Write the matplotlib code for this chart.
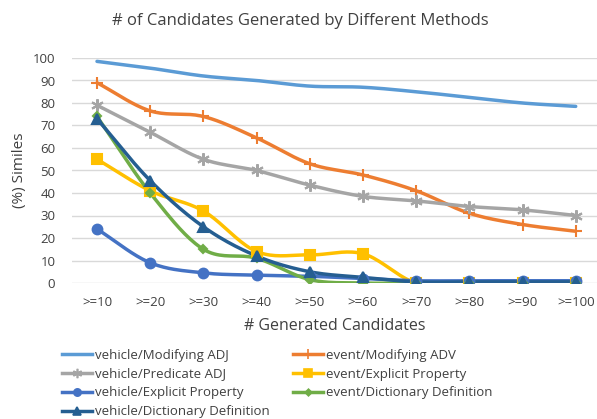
import numpy as np
import matplotlib
matplotlib.use("Agg")
import matplotlib.pyplot as plt

plt.rcParams["font.family"] = ["Open Sans", "DejaVu Sans"]

categories = [">=10", ">=20", ">=30", ">=40", ">=50", ">=60", ">=70", ">=80", ">=90", ">=100"]

vehicle_modifying_adj = [98.5, 95.5, 92, 90, 87.5, 87, 85, 82.5, 80, 78.5]
event_modifying_adv = [89, 76.5, 74, 64.5, 53, 48, 41, 31, 26, 23]
vehicle_predicate_adj = [79, 67, 55, 50, 43.5, 38.5, 36.5, 34, 32.5, 30]
event_explicit_property = [55, 41, 32, 14, 12.5, 13, 0, 0, 0, 0]
vehicle_explicit_property = [24, 9, 4.5, 3.5, 3, 2, 1, 1, 1, 1]
event_dictionary_definition = [74, 40, 15, 11, 1.5, 0, 0, 0, 0, 0]
vehicle_dictionary_definition = [73, 45.5, 25, 12, 5, 2.5, 0.5, 0.5, 0.5, 0.5]


def smooth(xs, ys, n=20):
    # catmull-rom curve through the points, like excel's smoothed line
    xs = np.asarray(xs, float)
    ys = np.asarray(ys, float)
    px = np.concatenate([[2 * xs[0] - xs[1]], xs, [2 * xs[-1] - xs[-2]]])
    py = np.concatenate([[2 * ys[0] - ys[1]], ys, [2 * ys[-1] - ys[-2]]])
    t = np.linspace(0, 1, n, endpoint=False)
    out_x, out_y = [], []
    for i in range(1, len(px) - 2):
        for p, out in ((px, out_x), (py, out_y)):
            p0, p1, p2, p3 = p[i - 1], p[i], p[i + 1], p[i + 2]
            out.extend(0.5 * (2 * p1 + (-p0 + p2) * t
                              + (2 * p0 - 5 * p1 + 4 * p2 - p3) * t ** 2
                              + (-p0 + 3 * p1 - 3 * p2 + p3) * t ** 3))
    out_x.append(xs[-1])
    out_y.append(ys[-1])
    return out_x, out_y


series = [
    ("vehicle/Modifying ADJ", vehicle_modifying_adj, "#5B9BD5", None, 0),
    ("vehicle/Predicate ADJ", vehicle_predicate_adj, "#A5A5A5", (6, 2, 0), 9),
    ("vehicle/Explicit Property", vehicle_explicit_property, "#4472C4", "o", 7),
    ("vehicle/Dictionary Definition", vehicle_dictionary_definition, "#255E91", "^", 7),
    ("event/Modifying ADV", event_modifying_adv, "#ED7D31", "+", 9),
    ("event/Explicit Property", event_explicit_property, "#FFC000", "s", 7),
    ("event/Dictionary Definition", event_dictionary_definition, "#70AD47", "D", 4.5),
]

draw_order = [0, 4, 1, 5, 2, 6, 3]

fig = plt.figure(figsize=(5.97, 4.19), dpi=100)
ax = fig.add_axes([72 / 597, (419 - 283) / 419, (597 - 72) / 597, (283 - 58) / 419])

x = np.arange(len(categories))
handles = {}
for i in draw_order:
    label, vals, color, marker, ms = series[i]
    sx, sy = smooth(x, vals)
    ax.plot(sx, sy, color=color, lw=2.5, solid_capstyle="round", zorder=3)
    if marker is not None:
        ax.plot(x, vals, linestyle="none", marker=marker, color=color, ms=ms,
                mew=1.5, zorder=4)
    handles[i] = plt.Line2D([], [], color=color, lw=2.5, marker=marker, ms=ms * 0.75, mew=1.2)

ax.set_xlim(-0.47, 9.40)
ax.set_ylim(0, 100)
ax.set_yticks(range(0, 101, 10))
ax.set_xticks(x)
ax.set_xticklabels(categories)
ax.tick_params(length=0, labelsize=9.5, colors="#404040")
ax.tick_params(axis="y", pad=12)
ax.tick_params(axis="x", pad=9)
ax.grid(axis="y", color="#D9D9D9", lw=1)
ax.set_axisbelow(True)
for s in ax.spines.values():
    s.set_visible(False)

ax.set_ylabel("(%) Similes", fontsize=11, color="#404040", labelpad=4)
ax.set_xlabel("# Generated Candidates", fontsize=11.5, color="#404040", labelpad=7)
fig.text(0.503, 0.950, "# of Candidates Generated by Different Methods",
         ha="center", va="center", fontsize=12, color="#404040")

leg = fig.legend([handles[i] for i in range(7)], [series[i][0] for i in range(7)],
                 ncol=2, loc="upper left", bbox_to_anchor=(0.104, 0.168),
                 frameon=False, fontsize=9.5, handlelength=2.3, handletextpad=0.2,
                 columnspacing=1.75, labelspacing=0.45, borderaxespad=0, borderpad=0)
for t in leg.get_texts():
    t.set_color("#404040")

fig.savefig("out.png", dpi=100)
